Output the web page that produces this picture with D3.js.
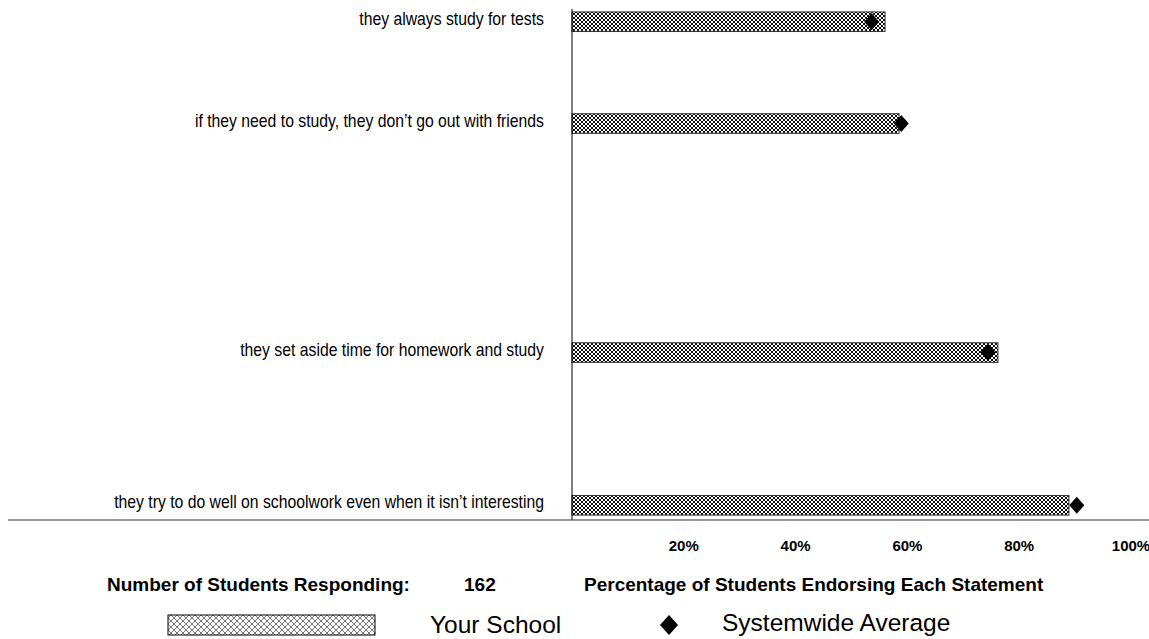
<!DOCTYPE html>
<html>
<head>
<meta charset="utf-8">
<script src="https://cdn.jsdelivr.net/npm/d3@7"></script>
<style>
  html, body { margin: 0; padding: 0; background: #fff; }
  svg { display: block; }
  .sans { font-family: "Liberation Sans", Arial, sans-serif; }
</style>
</head>
<body>
<svg id="chart" width="1149" height="639"></svg>
<script>
// ---- data ----
// rows of the original chart, top to bottom (blank rows are empty statements)
const categories = [
  "they always study for tests", "", "", "",
  "if they need to study, they don’t go out with friends", "", "", "", "", "", "", "", "",
  "they set aside time for homework and study", "", "", "", "", "",
  "they try to do well on schoolwork even when it isn’t interesting"
];
const schoolValues = [56, null, null, null, 58.5, null, null, null, null, null, null, null, null, 76.2, null, null, null, null, null, 88.9];
const systemValues = [53.6, null, null, null, 58.9, null, null, null, null, null, null, null, null, 74.4, null, null, null, null, null, 90.3];
const tickValues = [20, 40, 60, 80, 100];
const tickLabels = ["20%", "40%", "60%", "80%", "100%"];
const respondents = 162;
const seriesNames = ["Your School", "Systemwide Average"];

// ---- drawing ----
const svg = d3.select("#chart");
const defs = svg.append("defs");

const pat = defs.append("pattern").attr("id", "hatch")
  .attr("patternUnits", "userSpaceOnUse").attr("width", 4).attr("height", 4);
pat.append("rect").attr("width", 4).attr("height", 4).attr("fill", "#fff");
pat.append("path").attr("d", "M0,0L4,4M4,0L0,4M-1,3L1,5M3,-1L5,1M-1,1L1,-1M3,5L5,3")
  .attr("stroke", "#000").attr("stroke-width", 0.95).attr("fill", "none");

const pat2 = defs.append("pattern").attr("id", "hatchLight")
  .attr("patternUnits", "userSpaceOnUse").attr("width", 6).attr("height", 6);
pat2.append("rect").attr("width", 6).attr("height", 6).attr("fill", "#fff");
pat2.append("path").attr("d", "M0,0L6,6M6,0L0,6M-1,5L1,7M5,-1L7,1M-1,1L1,-1M5,7L7,5")
  .attr("stroke", "#666").attr("stroke-width", 0.9).attr("fill", "none");

const x = d3.scaleLinear().domain([0, 100]).range([572, 1131]);
const y = d3.scaleBand().domain(d3.range(categories.length))
  .range([9, 518]).paddingInner(0.23).paddingOuter(0.115);

const rows = categories.map((c, i) => ({ label: c, school: schoolValues[i], system: systemValues[i], i }));
const filled = rows.filter(d => d.school != null);

// bars
svg.append("g").selectAll("rect").data(filled).join("rect")
  .attr("x", x(0)).attr("y", d => y(d.i))
  .attr("width", d => x(d.school) - x(0)).attr("height", y.bandwidth())
  .attr("fill", "url(#hatch)").attr("stroke", "#333").attr("stroke-width", 1);

// category labels (condensed, like Arial Narrow)
svg.append("g").selectAll("text").data(filled).join("text")
  .attr("class", "sans")
  .attr("transform", d => `translate(${x(0) - 28},${y(d.i) + y.bandwidth() / 2 + 3}) scale(0.83,1)`)
  .attr("text-anchor", "end").attr("font-size", 19).attr("fill", "#000")
  .text(d => d.label);

// axes lines
svg.append("line").attr("x1", x(0)).attr("x2", x(0)).attr("y1", y.range()[0]).attr("y2", 520)
  .attr("stroke", "#000").attr("stroke-width", 1);
svg.append("line").attr("x1", 8).attr("x2", 1149).attr("y1", 520).attr("y2", 520)
  .attr("stroke", "#333").attr("stroke-width", 1.2);

// systemwide diamonds
const diamond = "M0,-8.5L7.5,0L0,8.5L-7.5,0Z";
svg.append("g").selectAll("path").data(filled.filter(d => d.system != null)).join("path")
  .attr("d", diamond)
  .attr("transform", d => `translate(${x(d.system)},${y(d.i) + y.bandwidth() / 2})`)
  .attr("fill", "#000");

// tick labels
svg.append("g").selectAll("text").data(tickValues).join("text")
  .attr("class", "sans")
  .attr("x", d => x(d)).attr("y", 551)
  .attr("text-anchor", "middle").attr("font-size", 15).attr("font-weight", "bold")
  .text((d, i) => tickLabels[i]);

// footer texts
const foot = svg.append("g").attr("class", "sans").attr("font-weight", "bold").attr("font-size", 19);
foot.append("text").attr("x", 107).attr("y", 591).text("Number of Students Responding:");
foot.append("text").attr("x", 464).attr("y", 591).text(respondents);
foot.append("text").attr("x", 584).attr("y", 591).text("Percentage of Students Endorsing Each Statement");

// legend
const leg = svg.append("g").attr("class", "sans");
leg.append("rect").attr("x", 168).attr("y", 615).attr("width", 207).attr("height", 20)
  .attr("fill", "url(#hatchLight)").attr("stroke", "#000").attr("stroke-width", 1);
leg.append("text").attr("x", 430).attr("y", 633).attr("font-size", 24.5).text(seriesNames[0]);
leg.append("path").attr("d", "M0,-10L9,0L0,10L-9,0Z").attr("transform", "translate(669,625)").attr("fill", "#000");
leg.append("text").attr("x", 722).attr("y", 631).attr("font-size", 24.5).text(seriesNames[1]);
</script>
</body>
</html>
